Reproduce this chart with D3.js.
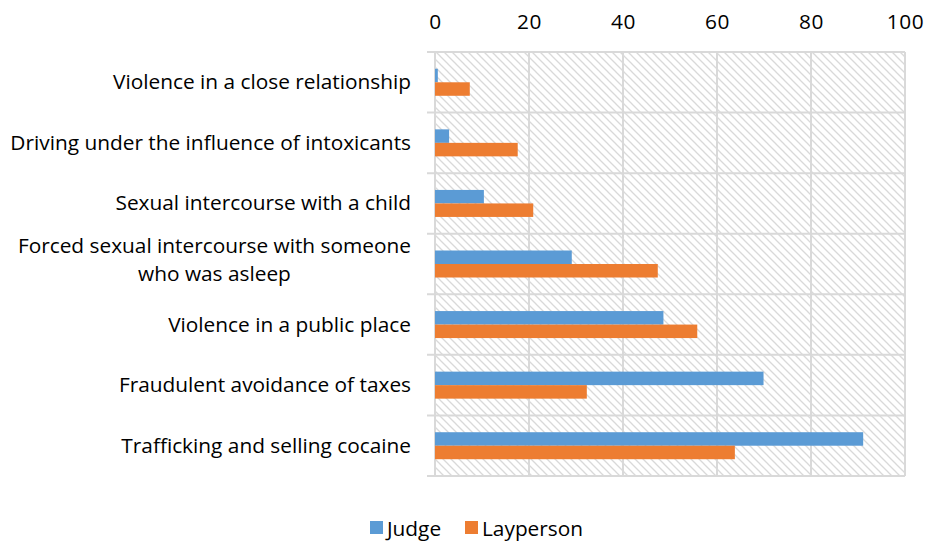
<!DOCTYPE html>
<html>
<head>
<meta charset="utf-8">
<script src="https://cdn.jsdelivr.net/npm/d3@7/dist/d3.min.js"></script>
<style>
  html, body { margin: 0; padding: 0; background: #fff; }
  svg { display: block; }
  text { font-family: "Open Sans", Lato, sans-serif; fill: #000; }
</style>
</head>
<body>
<svg id="chart" width="925" height="541"></svg>
<script>
const categories = [
  "Violence in a close relationship",
  "Driving under the influence of intoxicants",
  "Sexual intercourse with a child",
  "Forced sexual intercourse with someone\nwho was asleep",
  "Violence in a public place",
  "Fraudulent avoidance of taxes",
  "Trafficking and selling cocaine"
];
const seriesNames = ["Judge", "Layperson"];
const judgeValues = [0.6, 3.0, 10.4, 29.1, 48.6, 69.9, 91.1];
const laypersonValues = [7.4, 17.6, 20.9, 47.4, 55.8, 32.3, 63.8];
const xTicks = [0, 20, 40, 60, 80, 100];
const colors = ["#5B9BD5", "#ED7D31"];

(function () {
const svg = d3.select("#chart");
const pLeft = 435, pRight = 905, pTop = 52, pBottom = 476;

// fit font so that the longest label is ~401px wide (as in the reference)
const probe = svg.append("text").attr("font-size", 20).text(categories[1]);
const fontSize = 20 * 401 / probe.node().getComputedTextLength();
probe.remove();

const x = d3.scaleLinear().domain([0, 100]).range([pLeft, pRight]);
const y = d3.scaleBand().domain(categories).range([pTop, pBottom]).paddingInner(0).paddingOuter(0);
const barH = 13.5;
const sub = d3.scaleBand().domain(seriesNames).range([-barH, barH]);
const color = d3.scaleOrdinal().domain(seriesNames).range(colors);

// pattern
const defs = svg.append("defs");
const P = 8;
const pat = defs.append("pattern")
  .attr("id", "hatch").attr("patternUnits", "userSpaceOnUse")
  .attr("width", P).attr("height", P);
pat.append("rect").attr("width", P).attr("height", P).attr("fill", "#fff");
pat.append("path").attr("d", `M-1,-1 L${P+1},${P+1} M-1,${P-1} L1,${P+1} M${P-1},-1 L${P+1},1`)
  .attr("stroke", "#d9d9d9").attr("stroke-width", 1.3);

svg.append("rect").attr("x", pLeft).attr("y", pTop)
  .attr("width", pRight - pLeft).attr("height", pBottom - pTop)
  .attr("fill", "url(#hatch)");

// vertical gridlines
svg.append("g").selectAll("line").data(xTicks).join("line")
  .attr("x1", d => x(d)).attr("x2", d => x(d))
  .attr("y1", pTop).attr("y2", pBottom)
  .attr("stroke", "#d9d9d9").attr("stroke-width", 2);

// horizontal separators (band boundaries) with ticks to the left
const bounds = categories.map(c => y(c)).concat([y.range()[1]]);
svg.append("g").selectAll("line").data(bounds).join("line")
  .attr("x1", pLeft - 8).attr("x2", pRight)
  .attr("y1", d => d).attr("y2", d => d)
  .attr("stroke", "#d9d9d9").attr("stroke-width", 2);

// top axis tick labels
const xAxis = d3.axisTop(x).tickValues(xTicks).tickSize(0).tickPadding(0);
const gx = svg.append("g").attr("transform", "translate(0,29)").call(xAxis);
gx.select(".domain").remove();
gx.selectAll("text").attr("font-size", fontSize).attr("font-family", "'Open Sans', sans-serif")
  .attr("letter-spacing", 0.6).attr("fill", "#000").attr("dy", 0);

// bars
const rows = categories.map((c, i) => ({cat: c, vals: [judgeValues[i], laypersonValues[i]]}));
const g = svg.append("g");
rows.forEach(r => {
  const cy = y(r.cat) + y.bandwidth() / 2;
  seriesNames.forEach((s, j) => {
    g.append("rect")
      .attr("x", x(0))
      .attr("y", cy + sub(s))
      .attr("width", x(r.vals[j]) - x(0))
      .attr("height", sub.bandwidth())
      .attr("fill", color(s));
  });
});

// category labels
const labels = svg.append("g");
categories.forEach(c => {
  const lines = c.split("\n");
  const cy = y(c) + y.bandwidth() / 2;
  const lh = 28;
  const t = labels.append("text").attr("font-size", fontSize);
  if (lines.length === 1) {
    t.attr("x", 411).attr("y", cy + 7).attr("text-anchor", "end").text(c);
  } else {
    const tmp = labels.append("text").attr("font-size", fontSize).text(lines[0]);
    const w = tmp.node().getComputedTextLength();
    tmp.remove();
    const cx = 411 - w / 2;
    lines.forEach((ln, k) => {
      t.append("tspan").attr("x", cx).attr("text-anchor", "middle")
        .attr("y", cy + 3 + (k - (lines.length - 1) / 2) * lh).text(ln);
    });
  }
});

// legend
const legend = svg.append("g").attr("transform", "translate(370,521)");
const items = [{s: "Judge", x: 0}, {s: "Layperson", x: 95}];
items.forEach(it => {
  legend.append("rect").attr("x", it.x).attr("y", 0).attr("width", 13).attr("height", 13).attr("fill", color(it.s));
  legend.append("text").attr("x", it.x + 17).attr("y", 14.5).attr("font-size", fontSize).text(it.s);
});
})();
</script>
</body>
</html>
